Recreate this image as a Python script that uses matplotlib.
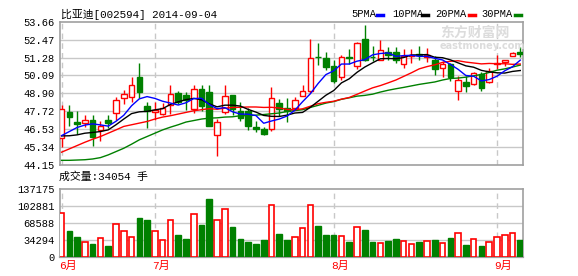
import numpy as np
import matplotlib.pyplot as plt
from matplotlib.lines import Line2D

# daily candles, 2014-06-13 .. 2014-09-04
opens = [45.93, 47.66, 47.02, 46.95, 47.13, 46.48, 47.15, 47.57, 48.60, 48.66,
         49.97, 48.09, 47.66, 47.55, 48.15, 48.93, 48.82, 47.86, 49.22, 49.00,
         46.11, 47.64, 48.77, 47.75, 47.71, 46.68, 46.55, 46.55, 48.27, 47.93,
         47.93, 48.75, 49.09, 51.33, 51.26, 50.75, 50.00, 51.31, 50.71, 52.49,
         51.35, 51.15, 51.66, 51.66, 50.86, 51.40, 51.49, 51.31, 51.09, 50.60,
         50.86, 49.04, 49.66, 49.53, 50.20, 49.66, 50.86, 50.97, 51.37, 51.66]
highs = [48.11, 48.11, 47.75, 47.49, 47.49, 47.08, 47.49, 48.64, 49.15, 49.97,
         50.93, 48.31, 48.33, 48.27, 49.49, 49.09, 48.99, 49.49, 49.44, 49.44,
         47.22, 49.49, 48.77, 48.33, 47.93, 47.04, 46.64, 49.31, 48.55, 48.60,
         48.64, 49.44, 52.49, 52.27, 51.66, 51.09, 51.44, 51.82, 52.33, 53.42,
         52.04, 52.42, 51.97, 51.97, 51.82, 51.88, 52.04, 51.93, 51.37, 51.04,
         50.93, 50.04, 50.04, 50.33, 50.33, 50.60, 51.44, 51.15, 51.66, 51.97]
lows = [45.37, 46.77, 46.20, 46.68, 45.44, 45.71, 46.60, 47.15, 48.20, 48.33,
        48.60, 46.60, 47.15, 47.49, 47.53, 48.20, 47.82, 47.60, 47.71, 46.71,
        44.77, 47.53, 47.44, 47.04, 46.48, 46.37, 46.11, 46.42, 47.37, 47.00,
        47.82, 48.72, 48.93, 50.77, 50.44, 49.60, 49.82, 50.82, 50.49, 51.04,
        51.04, 51.11, 51.15, 50.93, 50.60, 50.93, 51.15, 51.00, 50.15, 49.97,
        49.75, 48.44, 48.97, 49.44, 49.09, 49.60, 50.49, 50.71, 51.37, 51.31]
closes = [47.87, 47.33, 46.84, 47.13, 46.04, 46.71, 46.93, 48.46, 48.86, 49.44,
          49.00, 47.71, 47.82, 47.93, 48.86, 48.33, 48.44, 49.22, 48.04, 46.77,
          47.00, 48.75, 47.86, 47.26, 46.71, 46.55, 46.24, 48.60, 47.89, 47.71,
          48.46, 49.09, 51.26, 51.29, 50.66, 49.71, 51.31, 51.26, 52.27, 51.15,
          51.33, 51.75, 51.44, 51.15, 51.37, 51.44, 51.42, 51.44, 50.49, 50.82,
          49.97, 49.80, 49.37, 50.26, 49.26, 50.42, 50.91, 51.15, 51.60, 51.49]
volumes = [89400, 51800, 39700, 30900, 25500, 39000, 21500, 67200, 53100, 41000,
           80000, 74000, 53100, 35000, 75300, 43700, 35600, 87400, 63900, 118300,
           75300, 97500, 59800, 35600, 29600, 25500, 33600, 105600, 45700, 33600,
           40300, 59200, 105600, 61900, 43700, 43700, 43000, 29600, 61200, 53800,
           29600, 28900, 31600, 35600, 32900, 26900, 29600, 31600, 33600, 28900,
           37700, 49100, 23500, 37000, 21500, 30900, 41000, 43700, 47700, 34054]

# moving averages as shown on the chart
ma5 = [46.10, 46.37, 46.64, 46.80, 46.88, 46.81, 46.73, 47.05, 47.45, 48.08,
       48.54, 48.69, 48.57, 48.38, 48.26, 48.13, 48.28, 48.56, 48.58, 48.16,
       47.89, 47.96, 47.68, 47.53, 47.52, 47.43, 46.92, 47.07, 47.20, 47.40,
       47.78, 48.35, 48.88, 49.56, 50.15, 50.40, 50.85, 50.85, 51.04, 51.14,
       51.46, 51.55, 51.59, 51.36, 51.41, 51.43, 51.36, 51.36, 51.23, 51.12,
       50.83, 50.50, 50.09, 50.04, 49.73, 49.82, 50.04, 50.40, 50.67, 51.11]
ma10 = [46.08, 46.09, 46.15, 46.26, 46.31, 46.37, 46.48, 46.82, 47.20, 47.56,
        47.68, 47.71, 47.81, 47.89, 48.17, 48.34, 48.49, 48.57, 48.48, 48.21,
        48.01, 48.12, 48.12, 48.06, 47.84, 47.66, 47.44, 47.38, 47.37, 47.46,
        47.60, 47.64, 47.98, 48.38, 48.78, 49.09, 49.60, 49.87, 50.30, 50.65,
        50.93, 51.20, 51.22, 51.20, 51.28, 51.45, 51.46, 51.48, 51.30, 51.27,
        51.13, 50.93, 50.73, 50.64, 50.43, 50.33, 50.27, 50.25, 50.36, 50.42]
ma20 = [45.00, 45.22, 45.44, 45.66, 45.86, 46.04, 46.26, 46.48, 46.71, 46.82,
        46.93, 47.04, 47.20, 47.33, 47.42, 47.53, 47.64, 47.75, 47.82, 47.89,
        47.85, 47.92, 47.97, 47.98, 48.00, 48.00, 47.97, 47.98, 47.93, 47.84,
        47.81, 47.88, 48.05, 48.22, 48.31, 48.38, 48.52, 48.63, 48.84, 49.06,
        49.27, 49.42, 49.60, 49.79, 50.03, 50.27, 50.53, 50.68, 50.80, 50.96,
        51.03, 51.07, 50.98, 50.92, 50.86, 50.89, 50.87, 50.87, 50.83, 50.85]
ma30 = [44.46, 44.46, 44.48, 44.50, 44.55, 44.64, 44.82, 45.04, 45.26, 45.53,
        45.82, 46.04, 46.26, 46.48, 46.66, 46.82, 47.00, 47.10, 47.20, 47.26,
        47.28, 47.33, 47.35, 47.42, 47.42, 47.46, 47.50, 47.55, 47.60, 47.70,
        47.76, 47.82, 47.97, 48.11, 48.26, 48.36, 48.51, 48.61, 48.72, 48.77,
        48.85, 48.99, 49.11, 49.21, 49.30, 49.40, 49.50, 49.58, 49.66, 49.79,
        49.89, 49.92, 49.98, 50.07, 50.16, 50.29, 50.44, 50.53, 50.65, 50.78]

price_ticks = [44.15, 45.34, 46.53, 47.72, 48.90, 50.09, 51.28, 52.47, 53.66]
price_labels = ['44.15', '45.34', '46.53', '47.72', '48.90', '50.09', '51.28', '52.47', '53.66']
vol_ticks = [0, 34294, 68588, 102881, 137175]
month_pos = [0, 12, 35, 56]
month_labels = ['6月', '7月', '8月', '9月']
ma_names = ['5PMA', '10PMA', '20PMA', '30PMA']

RED = '#ff0000'
GREEN = '#008000'
GRID = '#c8c8c8'
BORDER = '#a0a0a0'
MONO = ['Liberation Mono', 'Noto Sans CJK SC']
CJK = ['Noto Sans CJK SC', 'DejaVu Sans']

W, H = 578, 276
fig = plt.figure(figsize=(W / 100, H / 100), dpi=100)
fig.patch.set_facecolor('white')


def fx(px):
    return px / W


def fy(py):
    return 1 - py / H


ax = fig.add_axes([fx(60), fy(165), fx(523) - fx(60), fy(21.7) - fy(165)])
axv = fig.add_axes([fx(60), fy(257), fx(523) - fx(60), fy(189.3) - fy(257)])

x = np.arange(len(closes))
o = np.array(opens)
c = np.array(closes)
hi = np.array(highs)
lo = np.array(lows)
up = c >= o
body_lo = np.minimum(o, c)
body_hi = np.maximum(o, c)
body_h = np.maximum(body_hi - body_lo, 0.02)
bw = 0.72

for a in (ax, axv):
    a.set_xlim(-0.2, 59.35)
    for s in a.spines.values():
        s.set_color(BORDER)
        s.set_linewidth(1.2)
    a.tick_params(length=0, pad=4)
    a.set_xticks([])
    for m in month_pos:
        a.axvline(m, color=GRID, lw=1, ls=(0, (4, 3)), zorder=0)

# price panel
ax.set_ylim(price_ticks[0], price_ticks[-1])
ax.set_yticks(price_ticks)
ax.set_yticklabels(price_labels, family=MONO, fontsize=7.5)
for t in price_ticks[1:-1]:
    ax.axhline(t, color=GRID, lw=1, zorder=0)

# wicks drawn around bodies so hollow candles stay hollow
colors = np.where(up, RED, GREEN)
ax.vlines(x, body_hi, hi, colors=colors, lw=1, zorder=2)
ax.vlines(x, lo, body_lo, colors=colors, lw=1, zorder=2)
ax.bar(x[up], body_h[up], bw, bottom=body_lo[up], facecolor='white',
       edgecolor=RED, lw=1, zorder=3)
ax.bar(x[~up], body_h[~up], bw, bottom=body_lo[~up], facecolor=GREEN,
       edgecolor=GREEN, lw=1, zorder=3)

ma_colors = ['#0000ff', 'black', RED, GREEN]
for series, col in zip([ma30, ma20, ma10, ma5], ma_colors[::-1]):
    ax.plot(x, series, color=col, lw=1, zorder=4)

# volume panel
v = np.array(volumes)
axv.set_ylim(0, vol_ticks[-1])
axv.set_yticks(vol_ticks)
axv.set_yticklabels([str(t) for t in vol_ticks], family=MONO, fontsize=7.5)
for t in vol_ticks[1:-1]:
    axv.axhline(t, color=GRID, lw=1, zorder=0)
axv.bar(x[up], v[up], bw, facecolor='white', edgecolor=RED, lw=1.2, zorder=3)
axv.bar(x[~up], v[~up], bw, facecolor=GREEN, edgecolor=GREEN, lw=1, zorder=3)
axv.spines['bottom'].set_linewidth(1.6)

for m, lab in zip(month_pos, month_labels):
    axv.text(m - 0.3, -0.13, lab, transform=axv.get_xaxis_transform(),
             ha='left', va='center', color=RED, family=MONO, fontsize=8)

# header texts
fig.text(fx(61), fy(14), '比亚迪[002594] 2014-09-04', family=MONO,
         fontsize=7.8, va='center', ha='left')
fig.text(fx(59), fy(177), '成交量:34054 手', family=MONO,
         fontsize=7.8, va='center', ha='left')

leg_x = [351, 392, 435, 481]
mark_x = [377, 422, 469, 515]
for name, lx, mx, col in zip(ma_names, leg_x, mark_x, ma_colors):
    fig.text(fx(lx), fy(14), name, family=MONO, fontsize=7.5,
             va='center', ha='left')
    fig.add_artist(Line2D([fx(mx), fx(mx + 6)], [fy(15), fy(15)],
                          color=col, lw=2.5, transform=fig.transFigure))

# faint watermark
fig.text(fx(440), fy(33), '东方财富网', family=CJK, fontsize=10,
         color='#dcdcdc', weight='bold', va='center', ha='left', zorder=0)
fig.text(fx(440), fy(46), 'eastmoney.com', family=['DejaVu Sans'], fontsize=7,
         color='#dcdcdc', weight='bold', va='center', ha='left', zorder=0)

fig.savefig('out.png', dpi=100, facecolor='white')
